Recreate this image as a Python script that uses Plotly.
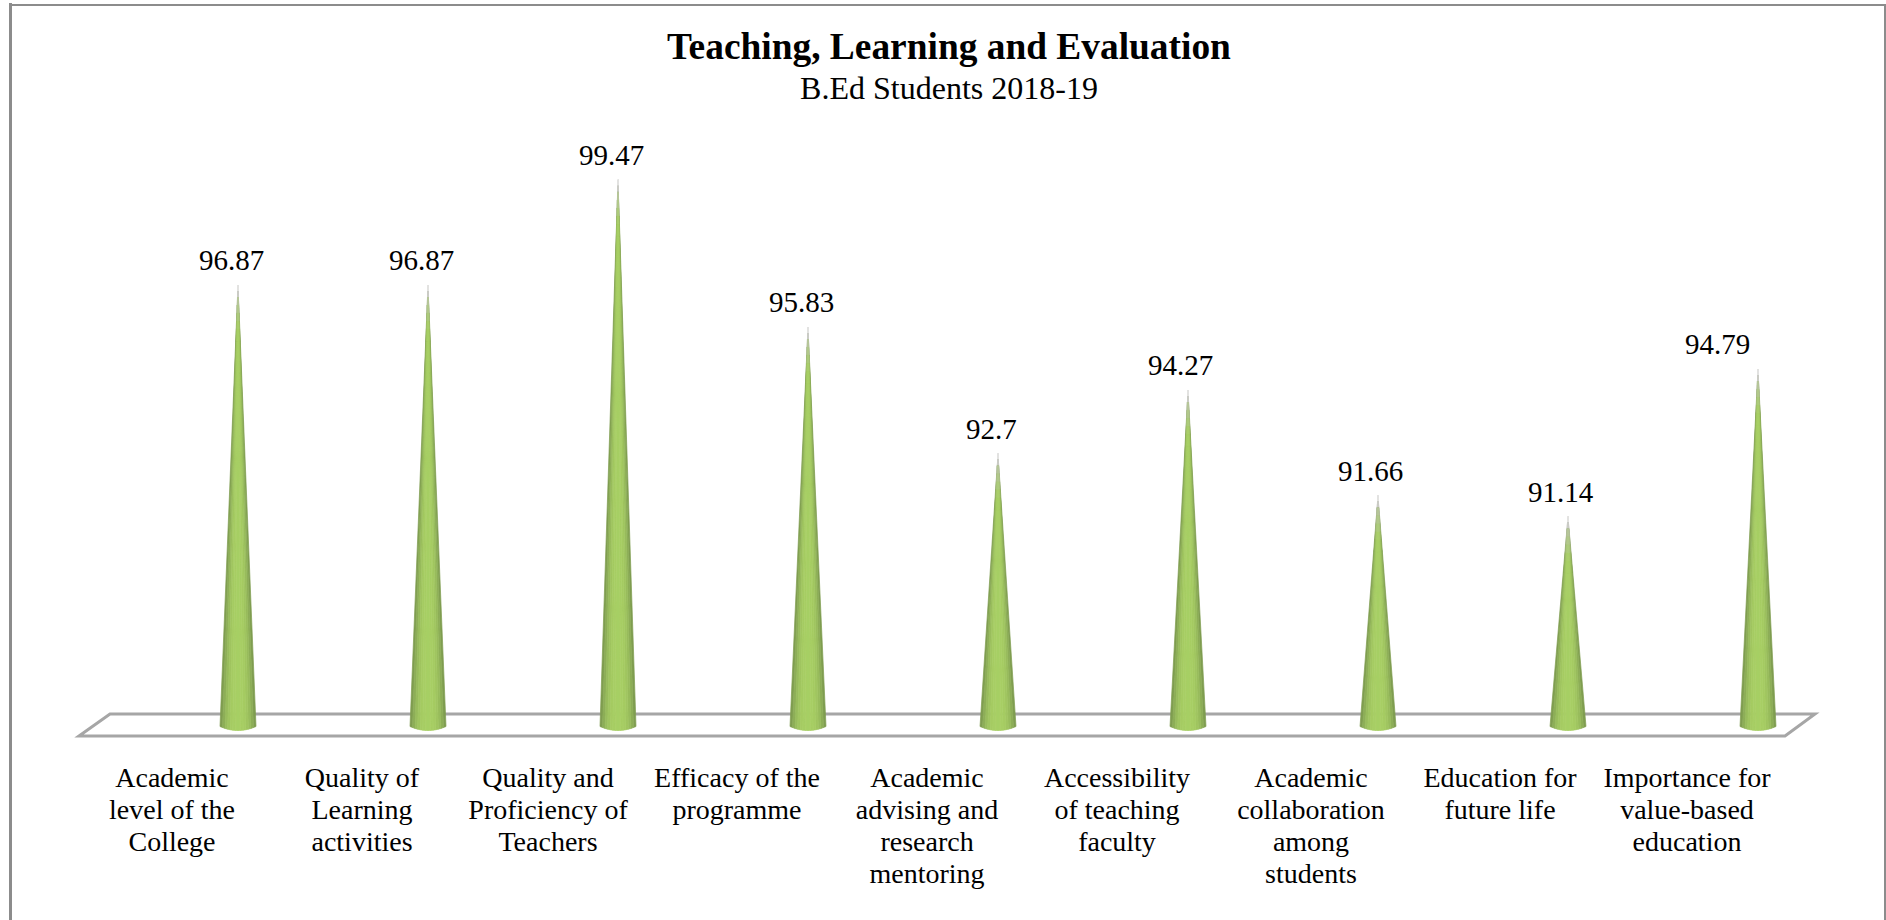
import math
import plotly.graph_objects as go

TITLE = "Teaching, Learning and Evaluation"
SUBTITLE = "B.Ed Students 2018-19"
categories = ["Academic<br>level of the<br>College", "Quality of<br>Learning<br>activities",
              "Quality and<br>Proficiency of<br>Teachers", "Efficacy of the<br>programme",
              "Academic<br>advising and<br>research<br>mentoring", "Accessibility<br>of teaching<br>faculty",
              "Academic<br>collaboration<br>among<br>students", "Education for<br>future life",
              "Importance for<br>value-based<br>education"]
values = [96.87, 96.87, 99.47, 95.83, 92.7, 94.27, 91.66, 91.14, 94.79]

# layout constants (pixels on the 1886x920 page)
W, H = 1886, 920
X0_PX, DX_PX = 238.0, 190.0      # first cone centre, cone spacing
Y_BASE_PX, PX_PER_UNIT = 730.5, 40.43
BASE_VALUE = 96.87 - (Y_BASE_PX - 285) / PX_PER_UNIT
AXIS_PX = 760
HALF_W = 18 / DX_PX
ELLIPSE = 4.0 / PX_PER_UNIT
label_xshift = [-7, -7, -7, -7, -7, -8, -8, -7, -41]
tick_shift_px = [-66, -66, -70, -71, -71, -71, -67, -68, -71]

xr = [(0 - X0_PX) / DX_PX, (W - X0_PX) / DX_PX]
yr = [BASE_VALUE - (AXIS_PX - Y_BASE_PX) / PX_PER_UNIT, BASE_VALUE + Y_BASE_PX / PX_PER_UNIT]


def mix(a, b, t):
    return tuple(a[k] + (b[k] - a[k]) * t for k in range(3))


CENTER, EDGE, GREY, TIPC = (168, 207, 100), (118, 146, 76), (190, 192, 185), (238, 238, 238)


def colour(u, d):
    c = mix(CENTER, EDGE, min(1, abs(u) ** 2.6))
    if d < 1.1:
        c = mix(GREY, c, d / 1.1)
    if d < 0.3:
        c = mix(TIPC, GREY, d / 0.3)
    return "#%02x%02x%02x" % tuple(int(round(v)) for v in c)


N_STRIP = 14
levels = [0, .15, .3, .5, .7, .9, 1.1, 1.4]
groups = {}
for i, v in enumerate(values):
    top = v - BASE_VALUE
    ds = [d for d in levels if d < top] + [top]
    for s in range(N_STRIP):
        u0, u1 = -1 + 2 * s / N_STRIP, -1 + 2 * (s + 1) / N_STRIP
        for a, b in zip(ds[:-1], ds[1:]):
            def pt(u, d):
                w = d / top
                lift = ELLIPSE * (u * u) * w
                return i + u * HALF_W * w, v - d + lift
            quad = [pt(u0, a), pt(u1, a), pt(u1, b), pt(u0, b), pt(u0, a)]
            g = groups.setdefault(colour((u0 + u1) / 2, (a + b) / 2), ([], []))
            g[0].extend([p[0] for p in quad] + [None])
            g[1].extend([p[1] for p in quad] + [None])

fig = go.Figure()
for col, (xs, ys) in groups.items():
    fig.add_trace(go.Scatter(x=xs, y=ys, mode="lines", fill="toself", fillcolor=col,
                             line=dict(color=col, width=0.7), hoverinfo="skip", showlegend=False))


def px(x):
    return x / W


def py(y):
    return (AXIS_PX - y) / AXIS_PX


platform = [(79, 736), (110, 714), (1815, 714), (1785, 736)]
path = "M " + " L ".join(f"{px(a):.5f},{py(b):.5f}" for a, b in platform) + " Z"
shapes = [dict(type="path", xref="paper", yref="paper", path=path, layer="below",
               line=dict(color="#a6a6a6", width=3), fillcolor="rgba(0,0,0,0)"),
          dict(type="line", xref="paper", yref="paper", x0=px(10.5), x1=px(10.5), y0=py(3), y1=py(925),
               line=dict(color="#8c8c8c", width=3), layer="below"),
          dict(type="line", xref="paper", yref="paper", x0=px(9), x1=px(1886), y0=py(5), y1=py(5),
               line=dict(color="#8c8c8c", width=2), layer="below"),
          dict(type="line", xref="paper", yref="paper", x0=px(1885), x1=px(1885), y0=py(5), y1=py(925),
               line=dict(color="#8c8c8c", width=2), layer="below")]

FONT = "Liberation Serif"
annotations = [dict(x=i, y=v, xref="x", yref="y", text=f"{v:g}", showarrow=False, xanchor="center",
                    yanchor="bottom", xshift=label_xshift[i], yshift=7,
                    font=dict(family=FONT, size=29, color="#000000"))
               for i, v in enumerate(values)]

tick_text = ["<br>".join(f'<span style="font-size:28px">{ln}</span>' for ln in c.split("<br>")) for c in categories]
title_text = f'<span style="font-size:37.4px"><b>{TITLE}</b></span><br><span style="font-size:32px">{SUBTITLE}</span>'

fig.update_layout(
    width=W, height=H, margin=dict(l=0, r=0, t=0, b=H - AXIS_PX, autoexpand=False),
    paper_bgcolor="#ffffff", plot_bgcolor="rgba(0,0,0,0)", showlegend=False,
    title=dict(text=title_text, x=949 / W, xanchor="center", xref="paper", y=1 - 58.5 / H, yref="container",
               yanchor="top", font=dict(family=FONT, size=31, color="#000000")),
    xaxis=dict(range=xr, showgrid=False, zeroline=False, showline=False, ticks="",
               tickmode="array", tickvals=[i + tick_shift_px[i] / DX_PX for i in range(len(values))],
               ticktext=tick_text, tickangle=0, ticklabelstandoff=1,
               tickfont=dict(family=FONT, size=24.6, color="#000000")),
    yaxis=dict(range=yr, visible=False),
    shapes=shapes, annotations=annotations,
)
fig.write_html("out.html", config={"displayModeBar": False},
               post_script="document.body.style.margin='0';document.body.style.overflow='hidden';")
